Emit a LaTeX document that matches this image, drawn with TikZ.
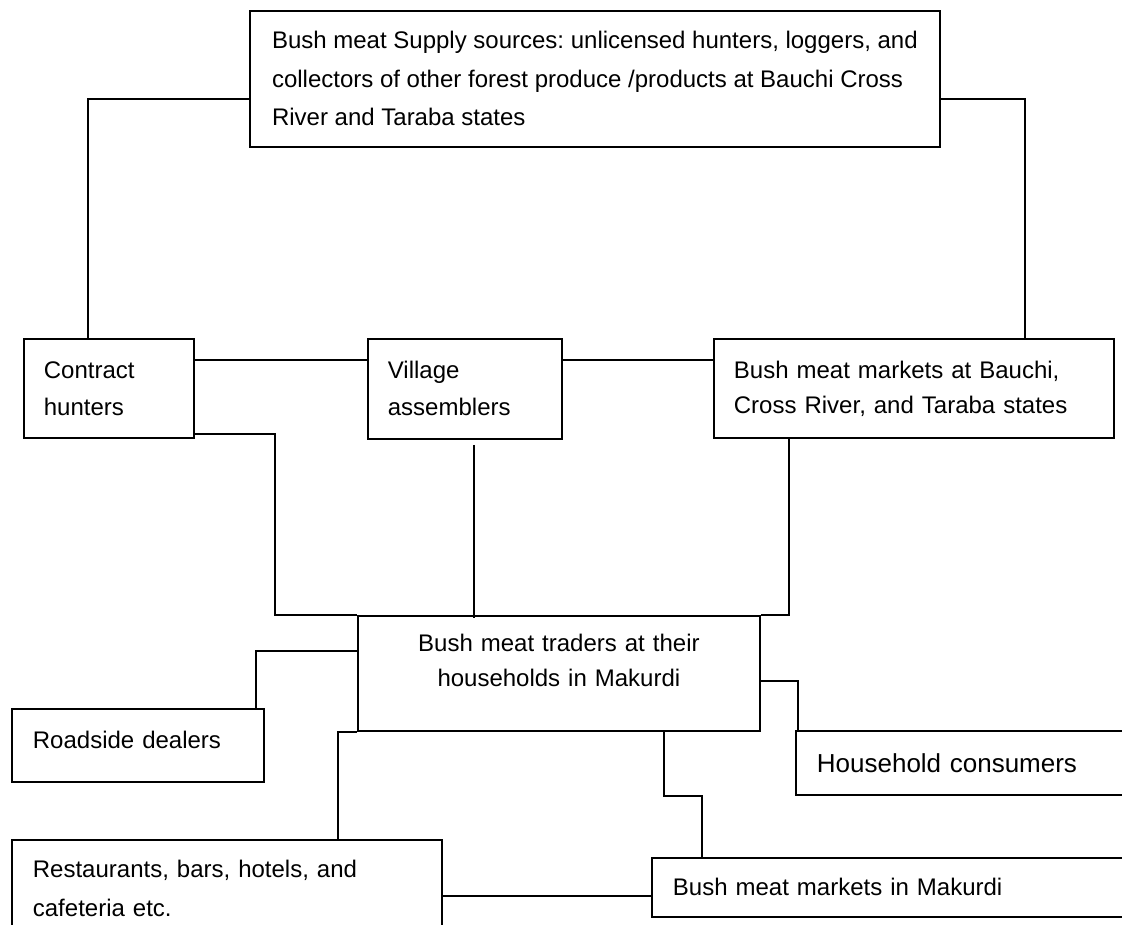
\documentclass[tikz,border=0pt]{standalone}
\usepackage{fontspec}
\setmainfont{Liberation Sans}
\usepackage{tikz}
\frenchspacing

\begin{document}
\begin{tikzpicture}[x=1pt, y=1pt,
    box/.style={draw=black, line width=1.8pt, anchor=north west, align=left, inner ysep=0pt, font=\fontsize{24}{37}\selectfont},
    link/.style={draw=black, line width=1.6pt}]
    \useasboundingbox (0,0) rectangle (1122,-925);
    \clip (0,0) rectangle (1122,-925);

    \node[box, inner xsep=0pt, minimum width=690pt, minimum height=136pt, font=\fontsize{24}{38.5}\selectfont] (S) at (249,-10) {Bush meat Supply sources: unlicensed hunters, loggers, and\\collectors of other forest produce /products at Bauchi Cross\\River and Taraba states};
    \node[box, inner xsep=20pt, text width=130pt, minimum height=99pt] (H) at (23,-338) {Contract\\hunters};
    \node[box, inner xsep=20pt, text width=154pt, minimum height=100pt] (V) at (367,-338) {Village\\assemblers};
    \node[box, inner xsep=20pt, text width=360pt, minimum height=99pt, font=\fontsize{24}{35}\selectfont] (M) at (713,-338) {Bush meat markets at Bauchi,\\Cross River, and Taraba states};
    \node[box, inner xsep=10pt, text width=382pt, minimum height=115pt, align=center, text depth=61pt, font=\fontsize{24}{35}\selectfont] (T) at (357,-615) {Bush meat traders at their\\households in Makurdi};
    \node[box, inner xsep=21pt, text width=210pt, minimum height=73pt, text depth=12pt] (R) at (11,-708) {Roadside dealers};
    \node[box, inner xsep=21pt, text width=388pt, minimum height=98pt, font=\fontsize{24}{39}\selectfont] (B) at (11,-839) {Restaurants, bars, hotels, and\\cafeteria etc.};
    \node[box, inner xsep=21pt, text width=293pt, minimum height=64pt, font=\fontsize{26}{37}\selectfont] (C) at (795,-730) {Household consumers};
    \node[box, inner xsep=21pt, text width=438pt, minimum height=59pt] (K) at (651,-857) {Bush meat markets in Makurdi};

    \draw[link] ([yshift=-20pt]S.west) -| ([xshift=-21pt]H.north);
    \draw[link] ([yshift=-20pt]S.east) -| ([xshift=111pt]M.north);

    \draw[link] (H.east |- 0,-360) -- (V.west |- 0,-360);
    \draw[link] (V.east |- 0,-360) -- (M.west |- 0,-360);

    \draw[link] (H.east |- 0,-434) -| (275,-615) -- (T.north west);
    \draw[link] ([xshift=9pt,yshift=-5pt]V.south) -- ([xshift=9pt,yshift=-3pt]V.south |- T.north);
    \draw[link] ([xshift=76pt]M.south west) |- (T.north east);

    \draw[link] (T.west |- 0,-651) -| ([xshift=118pt]R.north);
    \draw[link] (T.south west) -| ([xshift=111pt]B.north);
    \draw[link] (T.east |- 0,-681) -| ([xshift=3pt]C.north west);
    \draw[link] ([xshift=307pt]T.south west) |- ++(38pt,-64pt) -- ([xshift=51pt]K.north west);
    \draw[link] (B.east |- 0,-896) -- (K.west |- 0,-896);

\end{tikzpicture}
\end{document}
